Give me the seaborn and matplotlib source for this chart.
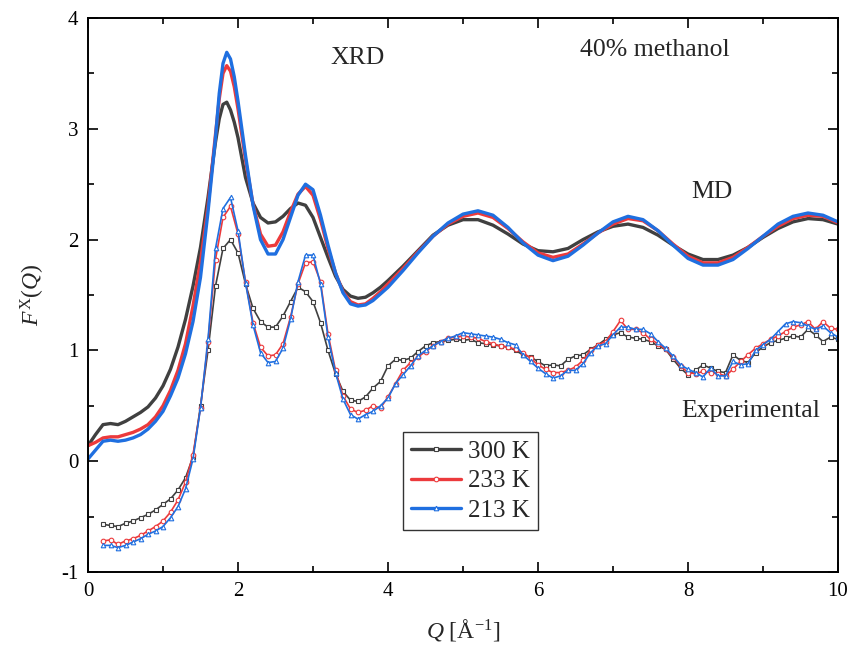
import numpy as np
import pandas as pd
import matplotlib
matplotlib.use("Agg")
import matplotlib.pyplot as plt
from matplotlib.ticker import MultipleLocator
import seaborn as sns

# ---------------- data ----------------
labels = ["300 K", "233 K", "213 K"]
colors = ["#404040", "#ec3a3c", "#1f6fe0"]
markers = ["s", "o", "^"]

q_md = [0.0, 0.1, 0.2, 0.3, 0.4, 0.5, 0.6, 0.7, 0.8, 0.9, 1.0, 1.1, 1.2, 1.3, 1.4,
        1.5, 1.6, 1.7, 1.75, 1.8, 1.85, 1.9, 1.95, 2.0, 2.1, 2.2, 2.3, 2.4, 2.5,
        2.6, 2.7, 2.8, 2.9, 3.0, 3.1, 3.2, 3.3, 3.4, 3.5, 3.6, 3.7, 3.8, 3.9,
        4.0, 4.2, 4.4, 4.6, 4.8, 5.0, 5.2, 5.4, 5.6, 5.8, 6.0, 6.2, 6.4, 6.6,
        6.8, 7.0, 7.2, 7.4, 7.6, 7.8, 8.0, 8.2, 8.4, 8.6, 8.8, 9.0, 9.2, 9.4,
        9.6, 9.8, 10.0]

md_300 = [0.14, 0.24, 0.33, 0.34, 0.33, 0.36, 0.40, 0.44, 0.49, 0.57, 0.68, 0.83, 1.03, 1.28, 1.58,
          1.93, 2.38, 2.88, 3.09, 3.22, 3.24, 3.17, 3.06, 2.92, 2.56, 2.33, 2.20, 2.15, 2.16,
          2.21, 2.28, 2.33, 2.31, 2.20, 2.02, 1.84, 1.67, 1.55, 1.49, 1.47, 1.48, 1.52, 1.57,
          1.63, 1.76, 1.90, 2.04, 2.13, 2.18, 2.18, 2.13, 2.05, 1.96, 1.90, 1.89, 1.92, 2.00,
          2.07, 2.12, 2.14, 2.11, 2.04, 1.95, 1.87, 1.82, 1.82, 1.86, 1.93, 2.02, 2.10, 2.16,
          2.19, 2.18, 2.14]

md_233 = [0.14, 0.17, 0.21, 0.22, 0.22, 0.24, 0.26, 0.29, 0.33, 0.40, 0.50, 0.64, 0.82, 1.06, 1.40,
          1.80, 2.30, 2.95, 3.27, 3.50, 3.57, 3.52, 3.38, 3.18, 2.72, 2.32, 2.05, 1.94, 1.95,
          2.07, 2.25, 2.41, 2.48, 2.40, 2.18, 1.92, 1.70, 1.53, 1.44, 1.41, 1.42, 1.47, 1.53,
          1.60, 1.74, 1.89, 2.03, 2.14, 2.21, 2.24, 2.20, 2.10, 1.98, 1.88, 1.84, 1.87, 1.96,
          2.06, 2.14, 2.19, 2.17, 2.08, 1.96, 1.85, 1.79, 1.79, 1.84, 1.93, 2.03, 2.12, 2.19,
          2.22, 2.21, 2.15]

md_213 = [0.02, 0.10, 0.18, 0.19, 0.18, 0.19, 0.21, 0.24, 0.29, 0.36, 0.45, 0.59, 0.75, 0.97, 1.26,
          1.66, 2.25, 2.92, 3.32, 3.59, 3.69, 3.63, 3.47, 3.25, 2.76, 2.31, 2.00, 1.87, 1.87,
          2.00, 2.20, 2.40, 2.50, 2.45, 2.22, 1.95, 1.70, 1.52, 1.42, 1.40, 1.41, 1.45, 1.51,
          1.57, 1.72, 1.88, 2.03, 2.15, 2.23, 2.26, 2.22, 2.11, 1.97, 1.86, 1.81, 1.85, 1.95,
          2.06, 2.16, 2.21, 2.18, 2.08, 1.95, 1.83, 1.77, 1.77, 1.82, 1.92, 2.03, 2.14, 2.21,
          2.24, 2.22, 2.16]

q_exp = [0.2, 0.3, 0.4, 0.5, 0.6, 0.7, 0.8, 0.9, 1.0, 1.1, 1.2, 1.3, 1.4, 1.5, 1.6, 1.7,
         1.8, 1.9, 2.0, 2.1, 2.2, 2.3, 2.4, 2.5, 2.6, 2.7, 2.8, 2.9, 3.0, 3.1, 3.2, 3.3,
         3.4, 3.5, 3.6, 3.7, 3.8, 3.9, 4.0, 4.1, 4.2, 4.3, 4.4, 4.5, 4.6, 4.7, 4.8, 4.9,
         5.0, 5.1, 5.2, 5.3, 5.4, 5.5, 5.6, 5.7, 5.8, 5.9, 6.0, 6.1, 6.2, 6.3, 6.4, 6.5,
         6.6, 6.7, 6.8, 6.9, 7.0, 7.1, 7.2, 7.3, 7.4, 7.5, 7.6, 7.7, 7.8, 7.9, 8.0, 8.1,
         8.2, 8.3, 8.4, 8.5, 8.6, 8.7, 8.8, 8.9, 9.0, 9.1, 9.2, 9.3, 9.4, 9.5, 9.6, 9.7,
         9.8, 9.9, 10.0]

exp_300 = [-0.57, -0.58, -0.59, -0.56, -0.54, -0.51, -0.48, -0.44, -0.39, -0.34, -0.26, -0.15, 0.04, 0.50, 1.00, 1.58,
           1.92, 2.00, 1.88, 1.60, 1.38, 1.26, 1.21, 1.21, 1.31, 1.44, 1.57, 1.53, 1.44, 1.25, 1.00, 0.79,
           0.63, 0.55, 0.54, 0.58, 0.66, 0.72, 0.86, 0.92, 0.91, 0.93, 0.99, 1.04, 1.07, 1.08, 1.09, 1.10,
           1.09, 1.10, 1.07, 1.06, 1.05, 1.04, 1.03, 1.00, 0.96, 0.94, 0.90, 0.86, 0.87, 0.86, 0.92, 0.95,
           0.96, 1.01, 1.05, 1.10, 1.14, 1.16, 1.12, 1.11, 1.10, 1.08, 1.04, 1.01, 0.92, 0.84, 0.78, 0.82,
           0.87, 0.84, 0.81, 0.80, 0.96, 0.91, 0.89, 0.98, 1.03, 1.07, 1.09, 1.11, 1.13, 1.12, 1.19, 1.14,
           1.08, 1.12, 1.10]

exp_233 = [-0.72, -0.71, -0.75, -0.72, -0.70, -0.67, -0.63, -0.59, -0.54, -0.46, -0.35, -0.19, 0.06, 0.48, 1.08, 1.82,
           2.20, 2.30, 2.05, 1.62, 1.25, 1.03, 0.95, 0.96, 1.06, 1.30, 1.60, 1.79, 1.80, 1.62, 1.15, 0.82,
           0.59, 0.47, 0.44, 0.46, 0.50, 0.48, 0.58, 0.70, 0.82, 0.89, 0.94, 0.99, 1.04, 1.08, 1.11, 1.12,
           1.13, 1.12, 1.11, 1.08, 1.06, 1.04, 1.03, 1.01, 0.98, 0.93, 0.87, 0.83, 0.80, 0.80, 0.82, 0.85,
           0.91, 1.00, 1.05, 1.08, 1.17, 1.27, 1.19, 1.19, 1.16, 1.10, 1.06, 1.01, 0.94, 0.86, 0.80, 0.79,
           0.81, 0.80, 0.79, 0.77, 0.83, 0.90, 0.96, 1.02, 1.06, 1.10, 1.13, 1.17, 1.21, 1.23, 1.26, 1.19,
           1.26, 1.20, 1.19]

exp_213 = [-0.76, -0.76, -0.78, -0.76, -0.73, -0.70, -0.66, -0.63, -0.59, -0.51, -0.41, -0.25, 0.02, 0.48, 1.10, 1.92,
           2.28, 2.38, 2.08, 1.61, 1.23, 0.98, 0.89, 0.90, 1.02, 1.28, 1.62, 1.86, 1.86, 1.60, 1.12, 0.80,
           0.56, 0.42, 0.38, 0.42, 0.45, 0.50, 0.57, 0.70, 0.78, 0.86, 0.95, 1.00, 1.04, 1.08, 1.11, 1.13,
           1.16, 1.15, 1.14, 1.13, 1.12, 1.10, 1.07, 1.05, 0.96, 0.90, 0.84, 0.79, 0.75, 0.77, 0.82, 0.82,
           0.88, 0.98, 1.04, 1.06, 1.14, 1.21, 1.21, 1.19, 1.19, 1.15, 1.08, 1.02, 0.95, 0.87, 0.83, 0.80,
           0.76, 0.84, 0.77, 0.77, 0.90, 0.87, 0.88, 1.00, 1.05, 1.10, 1.17, 1.24, 1.26, 1.25, 1.22, 1.19,
           1.22, 1.16, 1.12]

x_ticks = [0, 2, 4, 6, 8, 10]
y_ticks = [-1, 0, 1, 2, 3, 4]

# ---------------- style ----------------
sns.set_style("ticks")
plt.rcParams["font.family"] = ["Liberation Serif", "DejaVu Serif"]
plt.rcParams["mathtext.fontset"] = "custom"
plt.rcParams["mathtext.rm"] = "Liberation Serif"
plt.rcParams["mathtext.it"] = "Liberation Serif:italic"
plt.rcParams["mathtext.bf"] = "Liberation Serif:bold"

fig = plt.figure(figsize=(8.48, 6.46), dpi=100)
ax = fig.add_axes([88 / 848, 1 - 572 / 646, 750 / 848, 554 / 646])

md_sets = [md_300, md_233, md_213]
exp_sets = [exp_300, exp_233, exp_213]

for vals, c in zip(md_sets, colors):
    sns.lineplot(x=q_md, y=vals, ax=ax, color=c, linewidth=2.4, sort=False,
                 estimator=None, legend=False)

handles = []
for vals, c, m, lab in zip(exp_sets, colors, markers, labels):
    sns.lineplot(x=q_exp, y=vals, ax=ax, color=c, linewidth=1.2, marker=m,
                 markersize=3.3, markerfacecolor="white", markeredgecolor=c,
                 markeredgewidth=0.8, sort=False, estimator=None, legend=False)
    handles.append(ax.lines[-1])

ax.set_xlim(0, 10)
ax.set_ylim(-1, 4)
ax.set_xticks(x_ticks)
ax.set_yticks(y_ticks)
ax.set_xticklabels([str(t) for t in x_ticks])
ax.set_yticklabels([str(t) for t in y_ticks])
ax.xaxis.set_minor_locator(MultipleLocator(1))
ax.yaxis.set_minor_locator(MultipleLocator(0.5))
ax.tick_params(which="both", direction="in", top=True, right=True,
               labeltop=False, labelright=False, width=1.2, colors="black")
ax.tick_params(which="major", length=7, labelsize=15, pad=7)
ax.tick_params(which="minor", length=4)
for s in ax.spines.values():
    s.set_linewidth(1.4)
    s.set_color("black")

ax.set_xlabel(r"$Q$ [Å$^{-1}$]", fontsize=17, labelpad=12)
ax.set_ylabel(r"$F^{\mathrm{X}}(Q)$", fontsize=17, labelpad=10)

ax.text(3.59, 3.64, "XRD", fontsize=18.5, ha="center", va="center")
ax.text(7.56, 3.71, "40% methanol", fontsize=18.5, ha="center", va="center")
ax.text(8.32, 2.43, "MD", fontsize=18.5, ha="center", va="center")
ax.text(8.83, 0.45, "Experimental", fontsize=18.5, ha="center", va="center")

leg = ax.legend(handles, labels, loc="lower left", bbox_to_anchor=(0.42, 0.076),
                fontsize=18, frameon=True, fancybox=False, handlelength=2.0,
                handletextpad=0.3, borderpad=0.32, labelspacing=0.28,
                borderaxespad=0)
leg.get_frame().set_edgecolor("black")
leg.get_frame().set_linewidth(1.0)
for h in leg.legend_handles:
    h.set_linewidth(2.4)

fig.savefig("out.png", dpi=100)
